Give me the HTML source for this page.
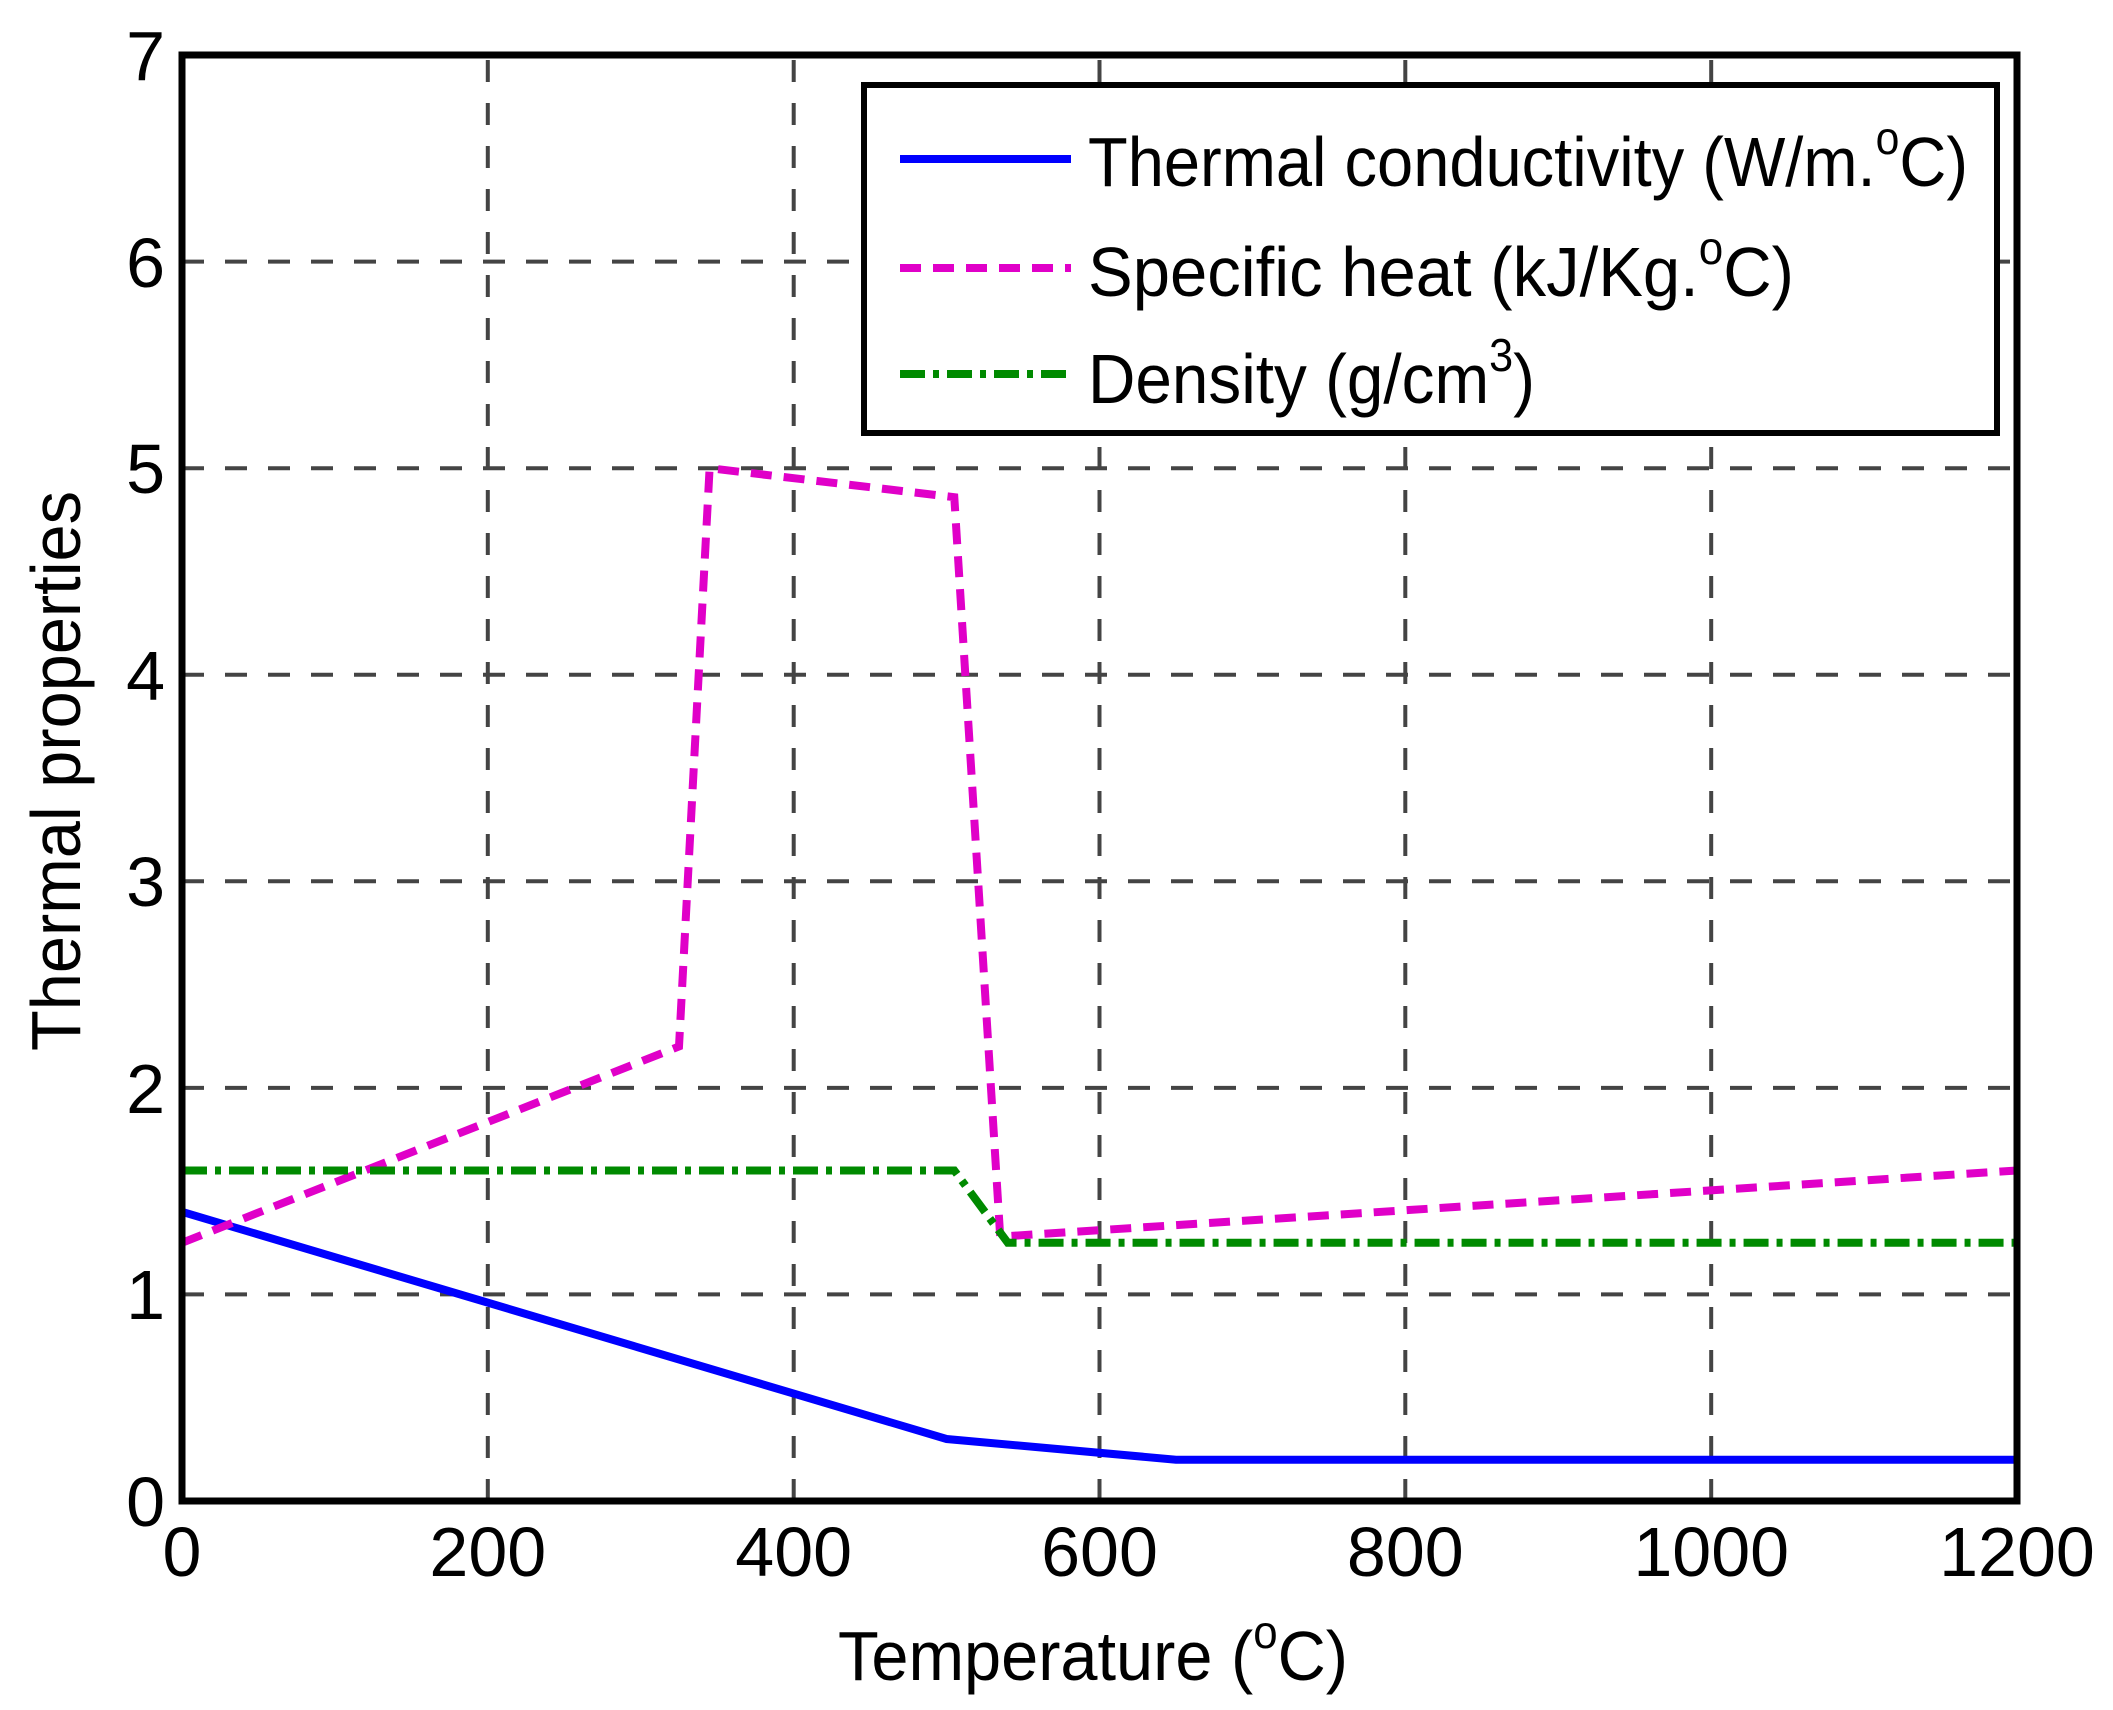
<!DOCTYPE html>
<html><head><meta charset="utf-8"><style>html,body{margin:0;padding:0;background:#fff}svg{display:block}</style></head>
<body>
<svg width="2113" height="1710" viewBox="0 0 2113 1710" xmlns="http://www.w3.org/2000/svg" font-family="Liberation Sans, Arial, sans-serif">
<rect width="2113" height="1710" fill="#fff"/>
<!-- grid -->
<g stroke="#444" stroke-width="4" stroke-dasharray="22 21" fill="none">
<line x1="487.8" y1="1501" x2="487.8" y2="55"/>
<line x1="793.7" y1="1501" x2="793.7" y2="55"/>
<line x1="1099.5" y1="1501" x2="1099.5" y2="55"/>
<line x1="1405.3" y1="1501" x2="1405.3" y2="55"/>
<line x1="1711.2" y1="1501" x2="1711.2" y2="55"/>
<line x1="182" y1="1294.4" x2="2017" y2="1294.4"/>
<line x1="182" y1="1087.9" x2="2017" y2="1087.9"/>
<line x1="182" y1="881.3" x2="2017" y2="881.3"/>
<line x1="182" y1="674.7" x2="2017" y2="674.7"/>
<line x1="182" y1="468.2" x2="2017" y2="468.2"/>
<line x1="182" y1="261.6" x2="2017" y2="261.6"/>
</g>
<!-- series -->
<polyline fill="none" stroke="#0000ff" stroke-width="8" points="182,1211.8 946.6,1439 1176,1459.7 2017,1459.7"/>
<polyline fill="none" stroke="#e000c8" stroke-width="8" stroke-dasharray="21 12" points="182,1242.8 679,1046.5 709.6,468.2 954.3,497.2 1000.2,1236.6 2017,1170.5"/>
<polyline fill="none" stroke="#008a00" stroke-width="8" stroke-dasharray="25 8 6 8" points="182,1170.5 954.3,1170.5 1007.8,1242.8 2017,1242.8"/>
<!-- axes box -->
<rect x="182" y="55" width="1835" height="1446" fill="none" stroke="#000" stroke-width="7"/>
<!-- tick labels -->
<g font-size="70" fill="#000" text-anchor="end">
<text x="165" y="1526">0</text>
<text x="165" y="1319">1</text>
<text x="165" y="1113">2</text>
<text x="165" y="906">3</text>
<text x="165" y="700">4</text>
<text x="165" y="493">5</text>
<text x="165" y="287">6</text>
<text x="165" y="80">7</text>
</g>
<g font-size="70" fill="#000" text-anchor="middle">
<text x="182" y="1576">0</text>
<text x="487.8" y="1576">200</text>
<text x="793.7" y="1576">400</text>
<text x="1099.5" y="1576">600</text>
<text x="1405.3" y="1576">800</text>
<text x="1711.2" y="1576">1000</text>
<text x="2017" y="1576">1200</text>
</g>
<!-- axis titles -->
<text x="838" y="1680" font-size="70" textLength="510" lengthAdjust="spacingAndGlyphs">Temperature (<tspan font-size="46" dy="-32">o</tspan><tspan dy="32">C</tspan>)</text>
<text transform="translate(80,1051) rotate(-90)" font-size="70" textLength="560" lengthAdjust="spacingAndGlyphs">Thermal properties</text>
<!-- legend -->
<rect x="864" y="85" width="1133" height="348" fill="#fff" stroke="#000" stroke-width="6"/>
<line x1="900" y1="159" x2="1071" y2="159" stroke="#0000ff" stroke-width="8"/>
<line x1="900" y1="268" x2="1071" y2="268" stroke="#e000c8" stroke-width="8" stroke-dasharray="21 12"/>
<line x1="900" y1="374" x2="1071" y2="374" stroke="#008a00" stroke-width="8" stroke-dasharray="25 8 6 8"/>
<g font-size="70" fill="#000">
<text x="1088" y="186" textLength="880" lengthAdjust="spacingAndGlyphs">Thermal conductivity (W/m.<tspan font-size="46" dy="-32">o</tspan><tspan dy="32">C)</tspan></text>
<text x="1088" y="296" textLength="706" lengthAdjust="spacingAndGlyphs">Specific heat (kJ/Kg.<tspan font-size="46" dy="-32">o</tspan><tspan dy="32">C)</tspan></text>
<text x="1088" y="403" textLength="447" lengthAdjust="spacingAndGlyphs">Density (g/cm<tspan font-size="46" dy="-32">3</tspan><tspan dy="32">)</tspan></text>
</g>
</svg>
</body></html>
